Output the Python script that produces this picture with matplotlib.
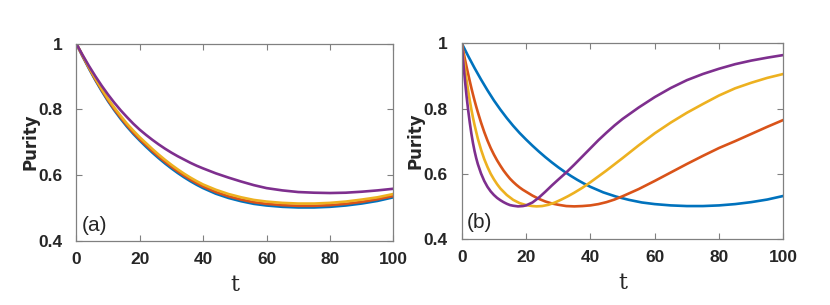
import matplotlib
matplotlib.use("Agg")
import matplotlib.pyplot as plt

# panel (a)
t_a = [0, 2, 4, 6, 8, 10, 12, 14, 16, 18, 20, 22, 24, 26, 28, 30, 32, 34, 36, 38, 40,
       44, 48, 52, 56, 60, 65, 70, 75, 80, 85, 90, 95, 100]
blue_a = [1.000, 0.961, 0.924, 0.889, 0.856, 0.825, 0.797, 0.771, 0.747, 0.725, 0.705, 0.686, 0.668,
          0.651, 0.635, 0.620, 0.606, 0.593, 0.581, 0.570, 0.560, 0.543, 0.530, 0.520, 0.512, 0.507,
          0.503, 0.501, 0.501, 0.503, 0.507, 0.513, 0.521, 0.532]
red_a = [1.000, 0.962, 0.926, 0.891, 0.859, 0.828, 0.800, 0.775, 0.751, 0.729, 0.709, 0.691, 0.673,
         0.656, 0.640, 0.625, 0.611, 0.598, 0.586, 0.575, 0.565, 0.548, 0.535, 0.525, 0.517, 0.512,
         0.508, 0.506, 0.506, 0.508, 0.512, 0.518, 0.526, 0.536]
yellow_a = [1.000, 0.964, 0.928, 0.894, 0.862, 0.832, 0.805, 0.780, 0.756, 0.735, 0.715, 0.697, 0.679,
            0.662, 0.646, 0.631, 0.617, 0.604, 0.592, 0.581, 0.571, 0.555, 0.542, 0.532, 0.524, 0.519,
            0.515, 0.513, 0.513, 0.515, 0.519, 0.525, 0.532, 0.542]
purple_a = [1.000, 0.965, 0.932, 0.901, 0.872, 0.845, 0.820, 0.797, 0.776, 0.756, 0.738, 0.722, 0.707,
            0.693, 0.680, 0.668, 0.657, 0.647, 0.637, 0.628, 0.620, 0.605, 0.592, 0.580, 0.569, 0.560,
            0.553, 0.548, 0.546, 0.545, 0.546, 0.549, 0.553, 0.558]

# panel (b)
t_blue_b = t_a
blue_b = blue_a
t_red_b = [0, 0.5, 1, 1.5, 2, 2.5, 3, 3.5, 4, 4.5, 5, 6, 7, 8, 9, 10, 11, 12, 13, 14, 15, 16, 17, 18,
           19, 20, 22, 24, 26, 28, 30, 32.5, 35, 37.5, 40, 42.5, 45, 47.5, 50, 55, 60, 65, 70, 75,
           80, 85, 90, 95, 100]
red_b = [1.000, 0.975, 0.951, 0.928, 0.906, 0.884, 0.863, 0.843, 0.824, 0.806, 0.789, 0.757, 0.728,
         0.702, 0.679, 0.659, 0.641, 0.625, 0.610, 0.597, 0.585, 0.575, 0.566, 0.558, 0.551, 0.545,
         0.533, 0.523, 0.515, 0.509, 0.505, 0.501, 0.500, 0.501, 0.503, 0.507, 0.513, 0.521, 0.531,
         0.553, 0.578, 0.604, 0.630, 0.655, 0.679, 0.700, 0.722, 0.744, 0.765]
t_yellow_b = [0, 0.5, 1, 1.5, 2, 2.5, 3, 3.5, 4, 5, 6, 7, 8, 9, 10, 11, 12, 14, 16, 18, 20, 22,
              23.3, 25, 27, 29, 31, 33, 35, 37.5, 40, 45, 50, 55, 60, 65, 70, 75, 80, 85, 90, 95, 100]
yellow_b = [1.000, 0.960, 0.922, 0.887, 0.855, 0.825, 0.797, 0.772, 0.749, 0.708, 0.674, 0.645,
            0.621, 0.600, 0.583, 0.568, 0.555, 0.535, 0.520, 0.510, 0.504, 0.501, 0.500, 0.501,
            0.505, 0.512, 0.521, 0.531, 0.542, 0.557, 0.574, 0.610, 0.648, 0.687, 0.724, 0.757,
            0.787, 0.814, 0.840, 0.862, 0.879, 0.894, 0.906]
t_purple_b = [0, 0.5, 1, 1.5, 2, 2.5, 3, 3.5, 4, 4.5, 5, 6, 7, 8, 9, 10, 11, 12, 13, 14, 15, 16,
              17.5, 19, 20, 22, 24, 26, 28, 30, 32.5, 35, 37.5, 40, 42.5, 45, 47.5, 50, 55, 60, 65,
              70, 75, 80, 85, 90, 95, 100]
purple_b = [1.000, 0.940, 0.886, 0.838, 0.795, 0.757, 0.723, 0.694, 0.669, 0.648, 0.630, 0.601,
            0.578, 0.560, 0.546, 0.535, 0.526, 0.519, 0.513, 0.508, 0.504, 0.502, 0.500, 0.501,
            0.503, 0.512, 0.527, 0.545, 0.564, 0.582, 0.604, 0.628, 0.653, 0.678, 0.703, 0.726,
            0.748, 0.768, 0.803, 0.835, 0.863, 0.887, 0.906, 0.922, 0.936, 0.947, 0.956, 0.964]

xticks = [0, 20, 40, 60, 80, 100]
yticks = [0.4, 0.6, 0.8, 1.0]
ytick_labels = ['0.4', '0.6', '0.8', '1']

c_blue = '#0072BD'
c_red = '#D95319'
c_yellow = '#EDB120'
c_purple = '#7E2F8E'

tick_font = ['Liberation Sans', 'DejaVu Sans']

fig = plt.figure(figsize=(8.3, 3.05), dpi=100)
ax1 = fig.add_axes([0.0919, 0.211, 0.382, 0.646])
ax2 = fig.add_axes([0.5563, 0.2164, 0.3875, 0.6416])

lw = 1.9
ax1.plot(t_a, blue_a, color=c_blue, lw=lw)
ax1.plot(t_a, red_a, color=c_red, lw=lw)
ax1.plot(t_a, yellow_a, color=c_yellow, lw=lw)
ax1.plot(t_a, purple_a, color=c_purple, lw=lw)

ax2.plot(t_blue_b, blue_b, color=c_blue, lw=lw)
ax2.plot(t_red_b, red_b, color=c_red, lw=lw)
ax2.plot(t_yellow_b, yellow_b, color=c_yellow, lw=lw)
ax2.plot(t_purple_b, purple_b, color=c_purple, lw=lw)

for ax, tag, ty in [(ax1, '(a)', 0.075), (ax2, '(b)', 0.083)]:
    ax.set_xlim(0, 100)
    ax.set_ylim(0.4, 1.0)
    ax.set_xticks(xticks)
    ax.set_yticks(yticks)
    ax.set_xticklabels([str(v) for v in xticks], family=tick_font, fontweight='bold', fontsize=12.5,
                       color='#262626')
    ax.set_yticklabels(ytick_labels, family=tick_font, fontweight='bold', fontsize=12.5,
                       color='#262626')
    ax.tick_params(direction='in', length=4, width=0.8, color='#808080',
                   top=True, right=True)
    ax.tick_params(axis='y', pad=10)
    ax.tick_params(axis='x', pad=8)
    for s in ax.spines.values():
        s.set_color('#808080')
        s.set_linewidth(0.9)
    ax.set_ylabel('Purity', family='DejaVu Sans', fontweight='bold', fontsize=12, color='#262626')
    ax.yaxis.set_label_coords(-0.115, 0.5)
    ax.set_xlabel('t', family='DejaVu Serif', fontsize=16, color='#262626')
    ax.xaxis.set_label_coords(0.5, -0.17)
    ax.text(0.017, ty, tag, transform=ax.transAxes, family=tick_font, fontsize=15,
            ha='left', va='center', color='#262626')

fig.savefig('out.png', dpi=100)
